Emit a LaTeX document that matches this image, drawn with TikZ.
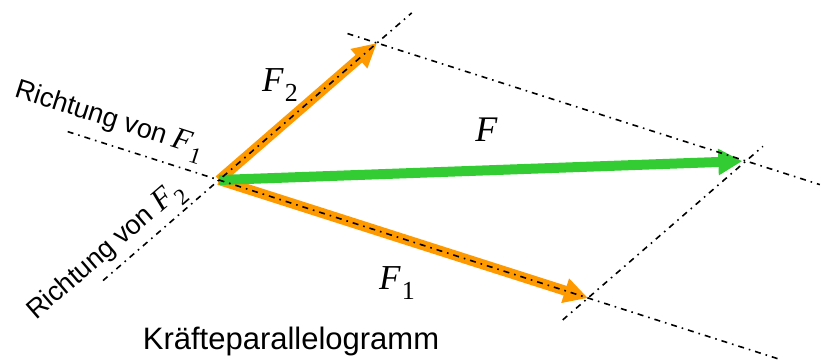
\documentclass[tikz,border=0pt]{standalone}
\usepackage{fontspec}
\setmainfont{Liberation Sans}
\newfontfamily\serifF{Liberation Serif}
\usetikzlibrary{arrows.meta,calc}
\newcommand{\Fvec}[3]{{\serifF\fontsize{#1}{#1}\selectfont\itshape F\kern0.04em\raisebox{-0.3em}{\fontsize{#2}{#2}\selectfont\upshape #3}}}

\begin{document}
\begin{tikzpicture}[
    x=1pt, y=-1pt,
    force/.style={line width=10pt,draw={rgb,255:red,255;green,153;blue,0},-{Triangle[length=24pt,width=24pt]}},
    result/.style={line width=10pt,draw={rgb,255:red,51;green,204;blue,51},-{Triangle[length=24pt,width=25pt]}},
    dir/.style={line width=1.6pt,dash pattern=on 6pt off 5pt on 1.6pt off 5pt},
    lbl/.style={inner sep=0pt}
]
\useasboundingbox (0,0) rectangle (821,361);
\coordinate (O) at (219,180);
\coordinate (F1) at (588,298);
\coordinate (F2) at (377,43);
\coordinate (F) at ($(F1)+(F2)-(O)$);
\coordinate (d1a) at ($(O)!-0.41!(F1)$);
\coordinate (d1b) at ($(O)!1.52!(F1)$);
\coordinate (d2a) at ($(O)!-0.734!(F2)$);
\coordinate (d2b) at ($(O)!1.22!(F2)$);
\coordinate (p1a) at ($(F2)!-0.08!(F)$);
\coordinate (p1b) at ($(F2)!1.2!(F)$);
\coordinate (p2a) at ($(F1)!-0.16!(F)$);
\coordinate (p2b) at ($(F1)!1.107!(F)$);

\draw[force] (O) -- (F1);
\draw[force] (O) -- (F2);
\draw[result] (O) -- ($(O)!0.993!(F)$);
\draw[dir] (d1a) -- (d1b);
\draw[dir] (d2a) -- (d2b);
\draw[dir] (p1a) -- (p1b);
\draw[dir] (p2a) -- (p2b);

\node[lbl] (lf2) at (280,85) {\Fvec{35}{26}{2}};
\node[lbl] (lf) at (487,135) {\Fvec{36}{26}{}};
\node[lbl] (lf1) at (397,283) {\Fvec{35}{26}{1}};
\node[lbl,rotate=-17.7] (r1) at (109,121) {\fontsize{27}{27}\selectfont Richtung von \Fvec{31}{23}{1}};
\node[lbl,rotate=40.9] (r2) at (107,252) {\fontsize{27}{27}\selectfont Richtung von \Fvec{31}{23}{2}};
\node[lbl] (title) at (291,341) {\fontsize{31}{31}\selectfont Kräfteparallelogramm};
\end{tikzpicture}
\end{document}
